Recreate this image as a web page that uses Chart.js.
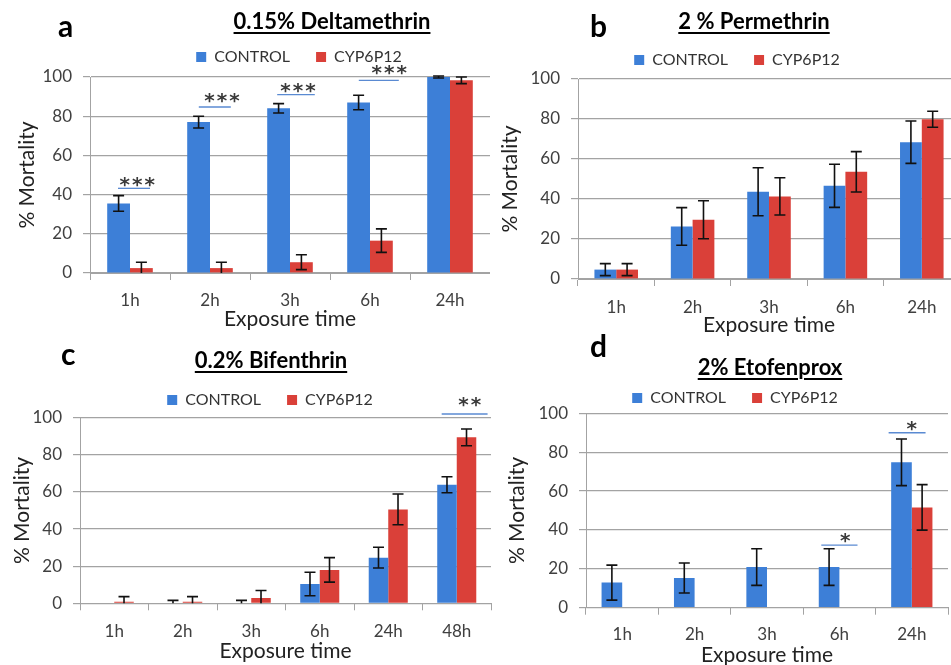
<!DOCTYPE html>
<html><head><meta charset="utf-8">
<script src="https://cdn.jsdelivr.net/npm/chart.js@4.4.1/dist/chart.umd.min.js"></script>
<style>
html,body{margin:0;padding:0;background:#fff;}
body{width:951px;height:665px;overflow:hidden;position:relative;font-family:Lato,"Open Sans",sans-serif;}
.panel{position:absolute;overflow:hidden;}
.panel canvas{position:absolute;left:0;top:0;}
.lbl{position:absolute;font-weight:bold;font-size:30px;line-height:1;color:#000;}
.ttl{position:absolute;font-weight:bold;font-size:22px;line-height:1;text-decoration:underline;text-decoration-thickness:1.5px;text-underline-offset:3px;transform:translateX(-50%);white-space:nowrap;color:#000;}
</style></head><body>
<div class="panel" id="pa" style="left:0;top:0;width:490px;height:332px"></div>
<div class="panel" id="pb" style="left:485px;top:0;width:466px;height:345px"></div>
<div class="panel" id="pc" style="left:0;top:332px;width:492px;height:333px"></div>
<div class="panel" id="pd" style="left:485px;top:332px;width:466px;height:333px"></div>
<div class="lbl" style="left:58px;top:10px">a</div>
<div class="ttl" style="left:332px;top:10px">0.15% Deltamethrin</div>
<div class="lbl" style="left:590px;top:10px">b</div>
<div class="ttl" style="left:754px;top:10px">2 % Permethrin</div>
<div class="lbl" style="left:61px;top:338px">c</div>
<div class="ttl" style="left:271px;top:349px">0.2% Bifenthrin</div>
<div class="lbl" style="left:590px;top:330px">d</div>
<div class="ttl" style="left:770px;top:356px">2% Etofenprox</div>
<script>
// ---------------- DATA ----------------
const seriesNames = ['CONTROL', 'CYP6P12'];

const categoriesA = ['1h', '2h', '3h', '6h', '24h'];
const controlA    = [35.5, 77, 84, 87, 100];
const controlErrA = [4, 3, 2.4, 3.7, 0.5];
const cypA        = [2.5, 2.5, 5.5, 16.5, 98.3];
const cypErrA     = [3, 3, 3.8, 6, 1.7];
const sigA = [
  { cat: '1h', line: 43.2, text: 46.6,  mark: '***' },
  { cat: '2h', line: 84.7, text: 89.2,  mark: '***' },
  { cat: '3h', line: 91,   text: 94.5,  mark: '***' },
  { cat: '6h', line: 98.3, text: 103.4, mark: '***' }
];

const categoriesB = ['1h', '2h', '3h', '6h', '24h'];
const controlB    = [4.7, 26.3, 43.6, 46.6, 68.4];
const controlErrB = [3, 9.4, 12, 10.8, 10.6];
const cypB        = [4.7, 29.6, 41.3, 53.6, 79.9];
const cypErrB     = [3, 9.5, 9.3, 10.1, 4];
const sigB = [];

const categoriesC = ['1h', '2h', '3h', '6h', '24h', '48h'];
const controlC    = [0, 0, 0, 10.4, 24.6, 63.9];
const controlErrC = [0, 1.6, 1.6, 6.3, 5.6, 4.3];
const cypC        = [0.9, 0.9, 2.9, 18, 50.6, 89.4];
const cypErrC     = [2.7, 2.7, 4, 6.6, 8.3, 4.5];
const sigC = [
  { cat: '48h', line: 102, text: 108.6, mark: '**' }
];

const categoriesD = ['1h', '2h', '3h', '6h', '24h'];
const controlD    = [12.9, 15.3, 20.9, 20.9, 74.8];
const controlErrD = [9, 7.7, 9.4, 9.4, 12];
const cypD        = [0, 0, 0, 0, 51.6];
const cypErrD     = [0, 0, 0, 0, 11.7];
const sigD = [
  { cat: '6h',  line: 32.2, text: 35.7, mark: '*' },
  { cat: '24h', line: 90,   text: 93.5, mark: '*' }
];

const yTicks = [0, 20, 40, 60, 80, 100];
const xTitle = 'Exposure time';
const yTitle = '% Mortality';

// ---------------- STYLE ----------------
const FONT = 'Lato';
const BLUE = '#3d7fd7';
const RED = '#da4039';
const GRID = '#a3a3a3';
const TICK = '#404040';
const LEG_P = 26;

const errorBars = {
  id: 'errorBars',
  afterDatasetsDraw(chart) {
    const { ctx, scales: { y } } = chart;
    ctx.save();
    ctx.strokeStyle = '#111';
    ctx.lineWidth = 1.6;
    chart.data.datasets.forEach((ds, i) => {
      const meta = chart.getDatasetMeta(i);
      meta.data.forEach((bar, j) => {
        const e = ds.errors[j];
        const v = ds.data[j];
        if (!e) return;
        const hiV = v + e, loV = Math.max(0, v - e);
        const yh = y.getPixelForValue(hiV), yl = y.getPixelForValue(loV);
        const x = bar.x, c = 5.5;
        ctx.beginPath();
        ctx.moveTo(x, yh); ctx.lineTo(x, yl);
        ctx.moveTo(x - c, yh); ctx.lineTo(x + c, yh);
        if (v - e > 0) { ctx.moveTo(x - c, yl); ctx.lineTo(x + c, yl); }
        ctx.stroke();
      });
    });
    ctx.restore();
  }
};

const sigMarks = {
  id: 'sigMarks',
  afterDraw(chart, args, opts) {
    const items = opts.items || [];
    if (!items.length) return;
    const { ctx, scales: { x, y } } = chart;
    const cw = x.getPixelForValue(1) - x.getPixelForValue(0);
    ctx.save();
    items.forEach((s, k) => {
      const idx = chart.data.labels.indexOf(s.cat);
      const cx = x.getPixelForValue(idx);
      const sp = opts.spans[k];
      const yl = y.getPixelForValue(s.line);
      ctx.strokeStyle = '#5a8ad2';
      ctx.lineWidth = 1.3;
      ctx.beginPath();
      ctx.moveTo(cx + sp[0] * cw, yl);
      ctx.lineTo(cx + sp[1] * cw, yl);
      ctx.stroke();
      ctx.font = 'bold 20px "DejaVu Sans"';
      ctx.fillStyle = '#3a3a3a';
      ctx.textAlign = 'center';
      ctx.textBaseline = 'alphabetic';
      const m = ctx.measureText('*');
      const yt = y.getPixelForValue(s.text) + (m.actualBoundingBoxAscent - m.actualBoundingBoxDescent) / 2;
      const n = s.mark.length, step = 12.5;
      const tx = cx + sp[2] * cw;
      for (let q = 0; q < n; q++) {
        ctx.fillText('*', tx + (q - (n - 1) / 2) * step, yt);
      }
    });
    ctx.restore();
  }
};

const legendPlace = {
  id: 'legendPlace',
  afterLayout(chart, args, opts) {
    const lg = chart.legend;
    if (!lg) return;
    const w = lg.width, h = lg.height;
    lg.left = opts.x - w / 2; lg.right = lg.left + w;
    lg.top = opts.y - LEG_P - 8; lg.bottom = lg.top + h;
  }
};

function makePanel(cfg) {
  const host = document.getElementById(cfg.id);
  const canvas = document.createElement('canvas');
  canvas.width = cfg.W; canvas.height = cfg.H;
  canvas.style.width = cfg.W + 'px'; canvas.style.height = cfg.H + 'px';
  host.appendChild(canvas);
  const tickFs = 17, titleFs = 21;
  const options = {
    responsive: false,
    animation: false,
    layout: { padding: { top: cfg.top - (LEG_P + 26), left: 0, right: cfg.W - cfg.right, bottom: 0 } },
    datasets: { bar: { categoryPercentage: 0.57, barPercentage: 1 } },
    plugins: {
      legend: {
        display: true, position: 'top',
        labels: { font: { family: FONT, size: 16 }, color: '#333', boxWidth: 10, boxHeight: 10, padding: LEG_P }
      },
      tooltip: { enabled: false },
      sigMarks: { items: cfg.sig, spans: cfg.spans || [] },
      legendPlace: { x: cfg.legX, y: cfg.legY }
    },
    scales: {
      x: {
        grid: { offset: true, drawOnChartArea: false, drawTicks: true, tickLength: 7, color: GRID },
        border: { color: GRID, width: 1 },
        ticks: { font: { family: FONT, size: tickFs }, color: TICK, padding: cfg.tickY - cfg.bottom - 7 - tickFs * 0.6, maxRotation: 0 },
        title: { display: true, text: xTitle, font: { family: FONT, size: titleFs }, color: '#222',
                 padding: { top: 0, bottom: cfg.H - cfg.xTitleY - titleFs * 0.6 } },
        afterFit(s) { s.height = cfg.H - cfg.bottom; }
      },
      y: {
        min: 0, max: 100,
        afterBuildTicks(s) { s.ticks = yTicks.map(v => ({ value: v })); },
        grid: { color: GRID, tickLength: 7, lineWidth: 1.2 },
        border: { color: GRID, width: 1 },
        ticks: { font: { family: FONT, size: tickFs }, color: TICK, padding: 11 },
        title: { display: true, text: yTitle, font: { family: FONT, size: titleFs }, color: '#222',
                 padding: { top: cfg.yTitleX - titleFs * 0.6, bottom: 0 } },
        afterFit(s) { s.width = cfg.left; }
      }
    }
  };
  const chart = new Chart(canvas, {
    type: 'bar',
    data: {
      labels: cfg.labels,
      datasets: [
        { label: seriesNames[0], data: cfg.control, errors: cfg.controlErr, backgroundColor: BLUE, borderWidth: 0 },
        { label: seriesNames[1], data: cfg.cyp, errors: cfg.cypErr, backgroundColor: RED, borderWidth: 0 }
      ]
    },
    options,
    plugins: [errorBars, sigMarks, legendPlace]
  });
  const d = cfg.top - chart.chartArea.top;
  if (Math.abs(d) > 0.1) {
    options.layout.padding.top += d;
    chart.update('none');
  }
  return chart;
}

makePanel({ id: 'pa', W: 500, H: 332, left: 90, right: 490, top: 77, bottom: 273, tickY: 301, xTitleY: 319, yTitleX: 27,
  legX: 299, legY: 57, labels: categoriesA, control: controlA, controlErr: controlErrA, cyp: cypA, cypErr: cypErrA,
  sig: sigA, spans: [[-0.15, 0.25, 0.09], [-0.14, 0.26, 0.15], [-0.16, 0.31, 0.1], [-0.14, 0.36, 0.24]] });

makePanel({ id: 'pb', W: 480, H: 345, left: 93, right: 475, top: 79, bottom: 279, tickY: 308, xTitleY: 325, yTitleX: 25,
  legX: 252, legY: 60, labels: categoriesB, control: controlB, controlErr: controlErrB, cyp: cypB, cypErr: cypErrB,
  sig: sigB, spans: [] });

makePanel({ id: 'pc', W: 495, H: 333, left: 80, right: 491, top: 85.7, bottom: 271.3, tickY: 299.7, xTitleY: 319.7, yTitleX: 22,
  legX: 270, legY: 68, labels: categoriesC, control: controlC, controlErr: controlErrC, cyp: cypC, cypErr: cypErrC,
  sig: sigC, spans: [[-0.22, 0.45, 0.19]] });

makePanel({ id: 'pd', W: 470, H: 333, left: 101, right: 463, top: 81.3, bottom: 275.7, tickY: 303, xTitleY: 323, yTitleX: 32,
  legX: 250, legY: 66, labels: categoriesD, control: controlD, controlErr: controlErrD, cyp: cypD, cypErr: cypErrD,
  sig: sigD, spans: [[-0.25, 0.25, 0.08], [-0.32, 0.19, 0.0]] });
</script>
</body></html>
